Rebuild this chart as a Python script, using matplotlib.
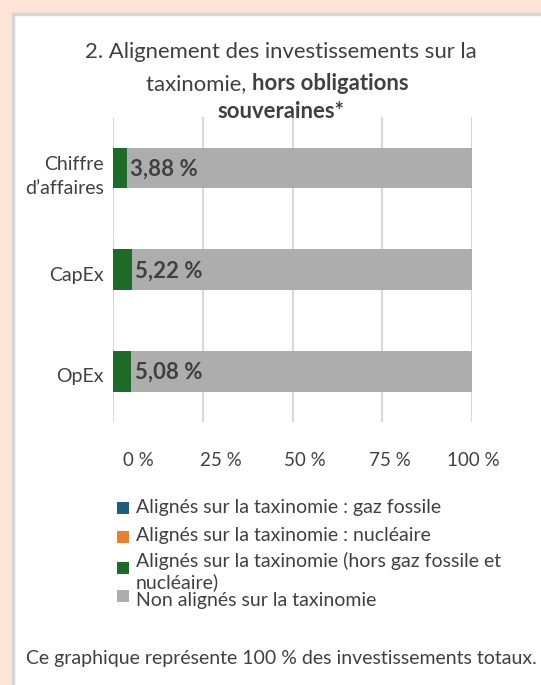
import numpy as np
import matplotlib.pyplot as plt
from matplotlib.patches import Rectangle
from matplotlib.transforms import ScaledTranslation

plt.rcParams['font.family'] = ['Lato', 'DejaVu Sans']

# Data
categories = ["Chiffre\nd\u2019affaires", "CapEx", "OpEx"]
gaz_fossile = [0.0, 0.0, 0.0]
nucleaire = [0.0, 0.0, 0.0]
aligne_hors = [3.88, 5.22, 5.08]
non_aligne = [100 - v for v in aligne_hors]
value_labels = ["3,88 %", "5,22 %", "5,08 %"]
xticks = [0, 25, 50, 75, 100]
xtick_labels = ["0 %", "25 %", "50 %", "75 %", "100 %"]
series_names = ["Alignés sur la taxinomie : gaz fossile",
                "Alignés sur la taxinomie : nucléaire",
                "Alignés sur la taxinomie (hors gaz fossile et\nnucléaire)",
                "Non alignés sur la taxinomie"]
colors = ["#1F5C7F", "#ED7D31", "#1D6B26", "#ADADAD"]

W, H = 541, 685
fig = plt.figure(figsize=(W / 100, H / 100), dpi=100)
fig.patch.set_facecolor("#FCE4D6")


def fx(px):
    return px / W


def fy(py):
    return 1 - py / H


# white panel with grey border (right and bottom run off the picture)
panel = Rectangle((fx(13), -0.02), 1.1, fy(14) + 0.02, transform=fig.transFigure,
                  facecolor="white", edgecolor="#D5D5D5", linewidth=2.5, zorder=0)
fig.patches.append(panel)

text_col = "#404040"
title_fs = 15.9

# title (line 2 mixes regular and bold, so measure and place both parts)
fig.text(fx(281), fy(58), "2. Alignement des investissements sur la",
         ha="center", va="baseline", fontsize=title_fs, color=text_col)
renderer = fig.canvas.get_renderer()
t1 = fig.text(0, fy(90), "taxinomie, ", ha="left", va="baseline",
              fontsize=title_fs, color=text_col)
t2 = fig.text(0, fy(90), "hors obligations", ha="left", va="baseline",
              fontsize=title_fs, color=text_col, fontweight="bold")
w1 = t1.get_window_extent(renderer).width
w2 = t2.get_window_extent(renderer).width
x0 = 277 - (w1 + w2) / 2
t1.set_x(fx(x0))
t2.set_x(fx(x0 + w1))
fig.text(fx(281), fy(118), "souveraines*", ha="center", va="baseline",
         fontsize=title_fs, color=text_col, fontweight="bold")

# axes: 0% at x=113, 100% at x=472; y from 117 to 422
ax = fig.add_axes([fx(113), fy(422), (472 - 113) / W, (422 - 117) / H])
ax.set_zorder(2)
y = np.arange(len(categories))
left = np.zeros(len(categories))
for vals, c in zip([gaz_fossile, nucleaire, aligne_hors, non_aligne], colors):
    ax.barh(y, vals, left=left, height=0.4, color=c, zorder=3)
    left = left + np.array(vals)

for i, lab in enumerate(value_labels):
    ax.annotate(lab, (aligne_hors[i], y[i]), xytext=(3.5, -8),
                textcoords="offset pixels", ha="left", va="baseline",
                fontsize=16, fontweight="bold", color=text_col, zorder=4)

ax.set_xlim(0, 100)
ax.set_ylim(len(categories) - 0.5, -0.5)
ax.set_yticks(y)
ax.set_yticklabels(categories, fontsize=14, color=text_col, ha="right",
                   linespacing=1.5)
ax.set_xticks(xticks)
ax.set_xticklabels(xtick_labels, fontsize=13.5, color=text_col)
ax.tick_params(axis="both", length=0)
ax.tick_params(axis="x", pad=21.5)
ax.tick_params(axis="y", pad=6.5)
ax.grid(axis="x", color="#D9D9D9", linewidth=1.5, zorder=0)
for s in ax.spines.values():
    s.set_visible(False)
ax.set_facecolor("none")

# the original renders the x labels slightly right of their gridlines
for lab, dx in zip(ax.get_xticklabels(), [25, 18.5, 12.5, 8, 1]):
    lab.set_transform(lab.get_transform() + ScaledTranslation(dx / 100, 0, fig.dpi_scale_trans))
for lab in ax.get_yticklabels():
    lab.set_transform(lab.get_transform() + ScaledTranslation(0, -4 / 100, fig.dpi_scale_trans))

# legend, laid out by hand to follow the original's uneven row spacing
leg_fs = 14
line_baselines = [[513], [541], [567, 588], [606]]
square_centres = [508, 537, 567.5, 596]
for name, c, bases, sq in zip(series_names, colors, line_baselines, square_centres):
    fig.patches.append(Rectangle((fx(117), fy(sq + 6)), 12 / W, 12 / H,
                                 transform=fig.transFigure, facecolor=c,
                                 edgecolor="none", zorder=3))
    for line, b in zip(name.split("\n"), bases):
        fig.text(fx(136), fy(b), line, ha="left", va="baseline",
                 fontsize=leg_fs, color=text_col, zorder=3)

fig.text(fx(26), fy(664),
         "Ce graphique représente 100 % des investissements totaux.",
         ha="left", va="baseline", fontsize=14, color=text_col, zorder=3)

fig.savefig("out.png", dpi=100, facecolor=fig.get_facecolor())
